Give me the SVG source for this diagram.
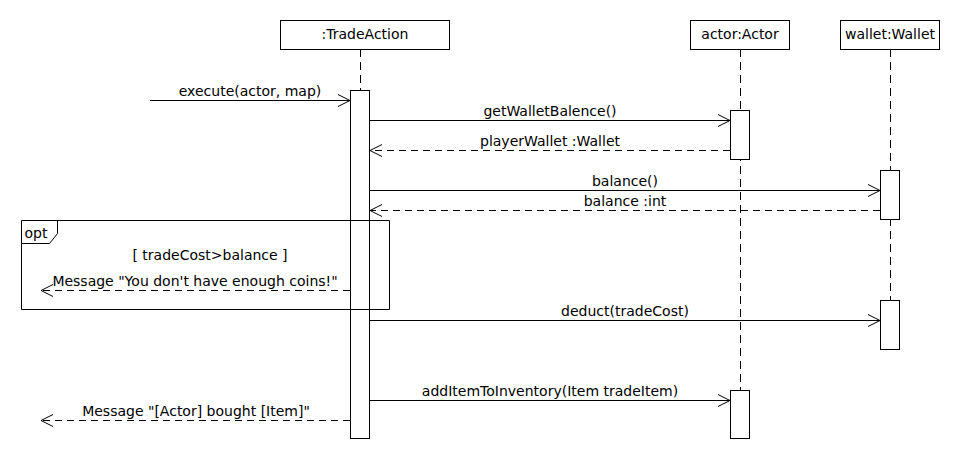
<svg xmlns="http://www.w3.org/2000/svg" width="960" height="460" viewBox="0 0 960 460">
<defs>
<style>
text{font-family:"DejaVu Sans",sans-serif;font-size:14px;fill:#000;text-anchor:middle}
.box{fill:#fff;stroke:#000;stroke-width:1}
.life{stroke:#000;stroke-width:1;stroke-dasharray:8,5;fill:none}
.msg{stroke:#000;stroke-width:1;fill:none;marker-end:url(#open)}
.ret{stroke:#000;stroke-width:1;fill:none;stroke-dasharray:7,5;marker-end:url(#open)}
</style>
<marker id="open" viewBox="0 0 14 14" refX="13" refY="7" markerWidth="14" markerHeight="14" markerUnits="userSpaceOnUse" orient="auto">
<path d="M1,1 L13,7 L1,13" fill="none" stroke="#000" stroke-width="1"/>
</marker>
</defs>
<rect width="960" height="460" fill="#fff"/>
<g id="lifelines">
<line class="life" x1="360.5" y1="49" x2="360.5" y2="91"/>
<line class="life" x1="740.5" y1="49" x2="740.5" y2="390"/>
<line class="life" x1="890.5" y1="49" x2="890.5" y2="300"/>
</g>
<g id="tradeaction">
<rect class="box" x="280.5" y="20.5" width="169" height="29"/>
<text x="365" y="39">:TradeAction</text>
<rect class="box" x="350.5" y="90.5" width="19" height="348"/>
</g>
<g id="actor">
<rect class="box" x="690.5" y="20.5" width="99" height="29"/>
<text x="740" y="39">actor:Actor</text>
<rect class="box" x="730.5" y="110.5" width="19" height="49"/>
<rect class="box" x="730.5" y="390.5" width="19" height="48"/>
</g>
<g id="wallet">
<rect class="box" x="840.5" y="20.5" width="99" height="29"/>
<text x="890" y="39">wallet:Wallet</text>
<rect class="box" x="880.5" y="170.5" width="19" height="49"/>
<rect class="box" x="880.5" y="300.5" width="19" height="49"/>
</g>
<g id="opt">
<path d="M21.5,220.5 H389.5 V309.5 H21.5 Z" fill="none" stroke="#000"/>
<path d="M21.5,243.5 H49.5 L57.5,233.5 V220.5" fill="none" stroke="#000"/>
<text x="36" y="238">opt</text>
<text x="210" y="260">[ tradeCost&gt;balance ]</text>
</g>
<g id="connectors">
<line class="msg" x1="150" y1="100.5" x2="350" y2="100.5"/>
<text x="250" y="96">execute(actor, map)</text>
<line class="msg" x1="370" y1="120.5" x2="730" y2="120.5"/>
<text x="550" y="116">getWalletBalence()</text>
<line class="ret" x1="730" y1="150.5" x2="370" y2="150.5"/>
<text x="550" y="146">playerWallet :Wallet</text>
<line class="msg" x1="370" y1="190.5" x2="880" y2="190.5"/>
<text x="625" y="186">balance()</text>
<line class="ret" x1="880" y1="210.5" x2="370" y2="210.5"/>
<text x="625" y="206">balance :int</text>
<line class="ret" x1="350" y1="290.5" x2="41" y2="290.5"/>
<text x="195" y="286">Message "You don't have enough coins!"</text>
<line class="msg" x1="370" y1="320.5" x2="880" y2="320.5"/>
<text x="625" y="316">deduct(tradeCost)</text>
<line class="msg" x1="370" y1="400.5" x2="730" y2="400.5"/>
<text x="550" y="396">addItemToInventory(Item tradeItem)</text>
<line class="ret" x1="350" y1="420.5" x2="41" y2="420.5"/>
<text x="196" y="416">Message "[Actor] bought [Item]"</text>
</g>
</svg>
